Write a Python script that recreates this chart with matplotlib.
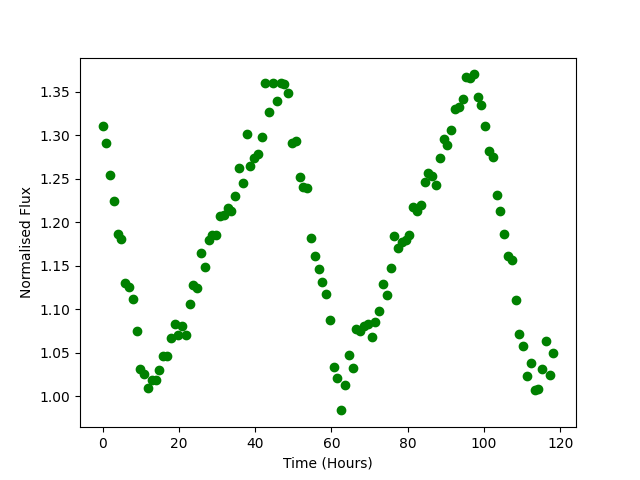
import matplotlib
matplotlib.use('Agg')
import matplotlib.pyplot as plt
import numpy as np

# time samples (hours), roughly one per hour
time = np.linspace(0, 118.2, 120)

# normalised flux
flux = [1.311, 1.291, 1.254, 1.224, 1.187, 1.181, 1.130, 1.126, 1.112, 1.075,
        1.031, 1.026, 1.010, 1.019, 1.019, 1.030, 1.046, 1.046, 1.067, 1.083,
        1.071, 1.081, 1.071, 1.106, 1.128, 1.125, 1.165, 1.149, 1.180, 1.185,
        1.186, 1.207, 1.209, 1.217, 1.213, 1.230, 1.262, 1.245, 1.301, 1.265,
        1.274, 1.278, 1.298, 1.360, 1.327, 1.360, 1.340, 1.360, 1.359, 1.349,
        1.291, 1.294, 1.252, 1.241, 1.240, 1.182, 1.161, 1.146, 1.131, 1.118,
        1.088, 1.034, 1.021, 0.984, 1.013, 1.048, 1.033, 1.077, 1.075, 1.081,
        1.083, 1.068, 1.085, 1.098, 1.129, 1.116, 1.148, 1.184, 1.170, 1.178,
        1.180, 1.186, 1.218, 1.213, 1.220, 1.246, 1.257, 1.253, 1.243, 1.274,
        1.296, 1.289, 1.306, 1.330, 1.333, 1.342, 1.367, 1.366, 1.370, 1.344,
        1.335, 1.311, 1.282, 1.275, 1.231, 1.213, 1.187, 1.161, 1.157, 1.111,
        1.072, 1.058, 1.024, 1.039, 1.007, 1.009, 1.031, 1.064, 1.025, 1.050]

plt.figure(figsize=(6.4, 4.8), dpi=100)
plt.plot(time, flux, 'o', color='green')
plt.xlabel('Time (Hours)')
plt.ylabel('Normalised Flux')
plt.savefig('out.png')
